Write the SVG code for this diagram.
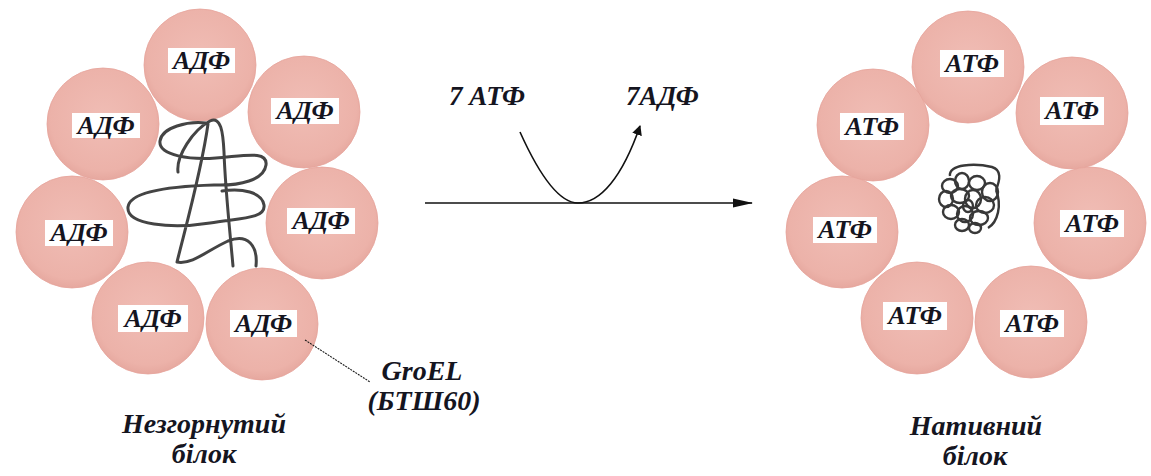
<svg xmlns="http://www.w3.org/2000/svg" width="1151" height="476" viewBox="0 0 1151 476">
  <defs>
    <radialGradient id="bead" cx="50%" cy="45%" r="55%">
      <stop offset="0%" stop-color="#F0BDB5"/>
      <stop offset="85%" stop-color="#ECB2A9"/>
      <stop offset="100%" stop-color="#E6A89F"/>
    </radialGradient>
    <marker id="head" viewBox="0 0 10 10" refX="9" refY="5" markerWidth="10" markerHeight="10" markerUnits="userSpaceOnUse" orient="auto">
      <path d="M0,0 L10,5 L0,10 Z" fill="#111"/>
    </marker>
    <marker id="headBig" viewBox="0 0 20 10" refX="19" refY="5" markerWidth="20" markerHeight="10" markerUnits="userSpaceOnUse" orient="auto">
      <path d="M0,0.5 L20,5 L0,9.5 Z" fill="#111"/>
    </marker>
  </defs>
  <style>
    .bead { fill: url(#bead); stroke: #E6A39A; stroke-width: 0.8; }
    .tag { fill: #fff; }
    text { font-family: "Liberation Serif", "Times New Roman", "DejaVu Serif", serif; font-weight: bold; font-style: italic; fill: #15151f; }
    .lbl { font-size: 26px; text-anchor: middle; }
    .cap { font-size: 28px; text-anchor: middle; }
    .chain { fill: none; stroke: #444; stroke-width: 3; stroke-linecap: round; stroke-linejoin: round; }
    .knot { fill: none; stroke: #383838; stroke-width: 2.4; }
    .conn { fill: none; stroke: #111; stroke-width: 1.6; }
  </style>
  <rect width="1151" height="476" fill="#fff"/>

  <!-- GroEL ring with bound ADP and unfolded chain -->
  <g id="ring-left">
    <circle class="bead" cx="200" cy="65" r="56"/>
    <circle class="bead" cx="103" cy="124" r="56"/>
    <circle class="bead" cx="304" cy="112" r="56"/>
    <circle class="bead" cx="72" cy="232" r="56"/>
    <circle class="bead" cx="322" cy="223" r="56"/>
    <circle class="bead" cx="148" cy="318" r="56"/>
    <circle class="bead" cx="262" cy="324" r="56"/>
    <path class="chain" d="M178,172 C176,156 193,130 210,121 C221,116 223,132 224,152 C225,185 229,222 233,266
      M206,123 C188,121 162,127 160,141 C158,156 192,160 216,158 C244,156 268,150 266,165 C264,180 240,186 214,185
      C180,186 130,190 128,207 C126,225 172,229 210,223 C240,218 266,219 264,205 C262,192 242,188 222,191
      M208,124 C202,168 188,218 177,262 C192,265 208,250 228,241 C248,233 258,246 256,266"/>
  </g>
  <g id="labels-left">
    <rect class="tag" x="168" y="48" width="67" height="25"/>
    <text class="lbl" x="201.5" y="69">АДФ</text>
    <rect class="tag" x="72" y="113" width="68" height="25"/>
    <text class="lbl" x="106" y="134">АДФ</text>
    <rect class="tag" x="271" y="98" width="68" height="26"/>
    <text class="lbl" x="305" y="119">АДФ</text>
    <rect class="tag" x="45" y="220" width="68" height="26"/>
    <text class="lbl" x="79" y="241">АДФ</text>
    <rect class="tag" x="287" y="208" width="68" height="26"/>
    <text class="lbl" x="321" y="229">АДФ</text>
    <rect class="tag" x="118" y="305" width="70" height="27"/>
    <text class="lbl" x="153" y="327">АДФ</text>
    <rect class="tag" x="230" y="310" width="67" height="27"/>
    <text class="lbl" x="263.5" y="332">АДФ</text>
  </g>

  <!-- GroEL ring with bound ATP and folded chain -->
  <g id="ring-right">
    <circle class="bead" cx="968" cy="67" r="56"/>
    <circle class="bead" cx="873" cy="125" r="56"/>
    <circle class="bead" cx="1072" cy="113" r="56"/>
    <circle class="bead" cx="842" cy="232" r="56"/>
    <circle class="bead" cx="1090" cy="223" r="56"/>
    <circle class="bead" cx="917" cy="318" r="56"/>
    <circle class="bead" cx="1031" cy="322" r="56"/>
    <g class="knot">
      <path d="M950,176 C948,164 975,163 992,167 C1002,170 1000,180 996,190"/>
      <path d="M996,190 C1002,205 998,222 988,228"/>
      <ellipse cx="950" cy="186" rx="8" ry="7"/>
      <ellipse cx="962" cy="181" rx="7" ry="8"/>
      <ellipse cx="977" cy="183" rx="8" ry="7"/>
      <ellipse cx="990" cy="192" rx="8" ry="9"/>
      <ellipse cx="946" cy="199" rx="7" ry="8"/>
      <ellipse cx="960" cy="196" rx="9" ry="7"/>
      <ellipse cx="973" cy="199" rx="8" ry="9"/>
      <ellipse cx="985" cy="205" rx="9" ry="8"/>
      <ellipse cx="951" cy="212" rx="8" ry="7"/>
      <ellipse cx="965" cy="214" rx="8" ry="8"/>
      <ellipse cx="979" cy="218" rx="9" ry="7"/>
      <ellipse cx="962" cy="225" rx="7" ry="6"/>
      <ellipse cx="975" cy="228" rx="6" ry="5"/>
      <ellipse cx="968" cy="206" rx="5" ry="6"/>
    </g>
  </g>
  <g id="labels-right">
    <rect class="tag" x="940" y="50" width="64" height="27"/>
    <text class="lbl" x="972" y="72">АТФ</text>
    <rect class="tag" x="840" y="113" width="64" height="27"/>
    <text class="lbl" x="872" y="135">АТФ</text>
    <rect class="tag" x="1040" y="97" width="64" height="28"/>
    <text class="lbl" x="1072" y="119">АТФ</text>
    <rect class="tag" x="813" y="217" width="64" height="26"/>
    <text class="lbl" x="845" y="238">АТФ</text>
    <rect class="tag" x="1060" y="210" width="64" height="27"/>
    <text class="lbl" x="1092" y="232">АТФ</text>
    <rect class="tag" x="883" y="302" width="64" height="28"/>
    <text class="lbl" x="915" y="324">АТФ</text>
    <rect class="tag" x="1000" y="310" width="64" height="27"/>
    <text class="lbl" x="1032" y="332">АТФ</text>
  </g>

  <!-- reaction arrow with ATP hydrolysis loop -->
  <g id="connectors">
    <line class="conn" x1="425" y1="203" x2="752" y2="203" marker-end="url(#headBig)"/>
    <path class="conn" d="M520,132 C538,172 558,203 578,203 C600,203 622,178 640,126" marker-end="url(#head)"/>
    <line x1="305" y1="340" x2="370" y2="382" stroke="#1a1a1a" stroke-width="1.1" stroke-dasharray="2 1"/>
  </g>

  <g id="captions">
    <text x="449" y="105" font-size="27">7 АТФ</text>
    <text x="626" y="105" font-size="27">7АДФ</text>
    <text class="cap" x="422" y="380">GroEL</text>
    <text class="cap" x="424" y="410">(БТШ60)</text>
    <text class="cap" x="204" y="433">Незгорнутий</text>
    <text class="cap" x="204" y="463">білок</text>
    <text class="cap" x="976" y="435">Нативний</text>
    <text class="cap" x="975" y="465">білок</text>
  </g>
</svg>
